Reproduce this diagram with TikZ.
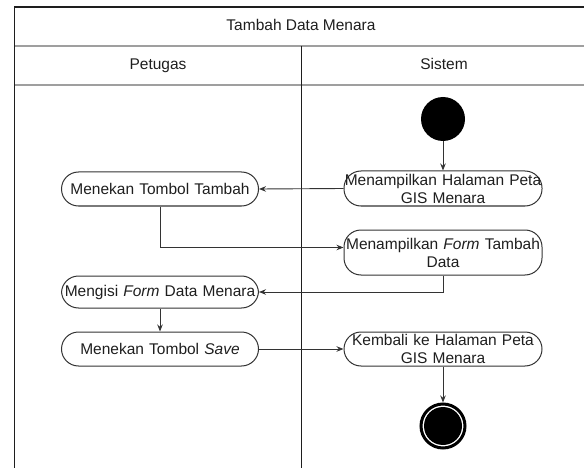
\documentclass[tikz,border=0pt]{standalone}
\usepackage{fontspec}
\setmainfont{Liberation Sans}
\usetikzlibrary{arrows.meta}
\definecolor{ink}{HTML}{1E1E1E}
\definecolor{edge}{HTML}{333333}
\begin{document}
\begin{tikzpicture}[x=1pt,y=-1pt,
  txt/.style={font=\fontsize{15.5}{18}\selectfont, text=ink, text height=11pt, text depth=3pt, inner sep=0pt},
  act/.style={draw=edge, line width=1pt, rounded corners=17pt, align=center,
    inner xsep=0pt, inner ysep=0pt, text width=197pt,
    font=\fontsize{15.5}{18}\selectfont, text=ink},
  conn/.style={draw=edge, line width=0.9pt, -{Stealth[length=7pt,width=5.5pt]}},
  frameline/.style={draw=ink, line width=1.4pt},
  divline/.style={draw=gray!75, line width=1.5pt},
  laneline/.style={draw=ink, line width=1pt}]
\useasboundingbox (0,0) rectangle (584,468);

% swimlane frame
\draw[divline] (14.5,46) -- (592,46);
\draw[divline] (14.5,85) -- (592,85);
\draw[laneline] (301,46) -- (301,470);
\draw[frameline] (14.5,470) -- (14.5,7) -- (592,7);

% headings
\node[txt] (title) at (301,26.5) {Tambah Data Menara};
\node[txt] (lanea) at (158,65.5) {Petugas};
\node[txt] (laneb) at (444,65.5) {Sistem};

% start and end
\node[circle, fill=black, minimum size=44pt, inner sep=0pt] (start) at (443,119) {};
\node[circle, draw=black, fill=white, line width=3pt, minimum size=44pt, inner sep=0pt,
  path picture={\fill[black] (path picture bounding box.center) circle (19pt);}] (finish) at (443,426) {};

% activities
\node[act, text width=198pt, minimum height=35pt] (halaman) at (443,188.5) {Menampilkan Halaman Peta\\GIS Menara};
\node[act, minimum height=34pt] (tambah) at (160,189) {Menekan Tombol Tambah};
\node[act, text width=198pt, minimum height=45pt] (form) at (443,252.5) {Menampilkan \textit{Form} Tambah\\Data};
\node[act, minimum height=32pt] (isi) at (160,292) {Mengisi \textit{Form} Data Menara};
\node[act, minimum height=34pt] (save) at (160,349) {Menekan Tombol \textit{Save}};
\node[act, text width=198pt, minimum height=34pt] (kembali) at (443,349) {Kembali ke Halaman Peta\\GIS Menara};

% flows
\draw[conn] (start) -- (halaman);
\draw[conn] (halaman.west) -- (tambah.east);
\draw[conn] (tambah.south) |- ([yshift=5pt]form.west);
\draw[conn] (form.south) |- (isi.east);
\draw[conn] (isi.south) -- (save.north);
\draw[conn] (save.east) -- (kembali.west);
\draw[conn] (kembali.south) -- (finish.north);
\end{tikzpicture}
\end{document}
